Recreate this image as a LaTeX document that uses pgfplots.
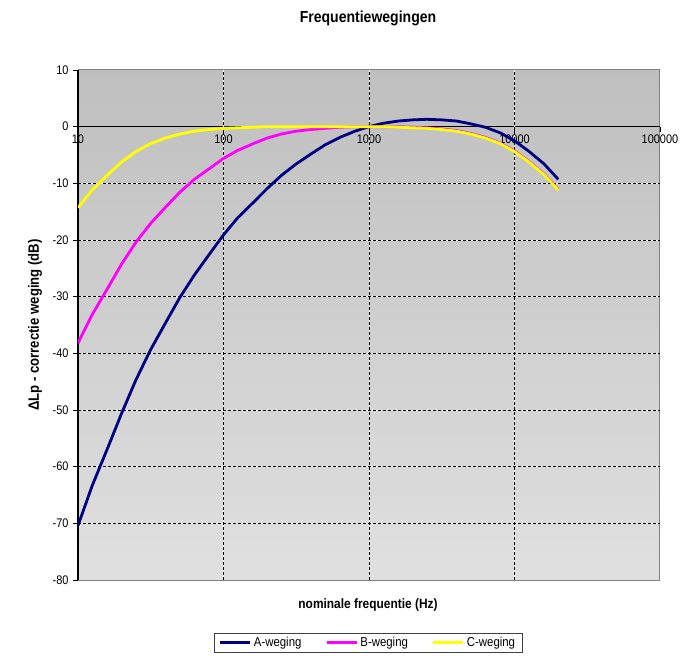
\documentclass[border=0pt]{standalone}
\usepackage{fontspec}
\setmainfont{Liberation Sans}[FakeStretch=0.88]
\usepackage{pgfplots}
\pgfplotsset{compat=1.18}
\usepackage{pgfplotstable}

\definecolor{aweg}{HTML}{000080}
\definecolor{bweg}{HTML}{FF00FF}
\definecolor{cweg}{HTML}{FFFF00}
\definecolor{bgtop}{HTML}{BFBFBF}
\definecolor{bgbot}{HTML}{E0E0E0}

% frequentie, A-, B- en C-weging (dB)
\pgfplotstableread{
f     A     B     C
10    -70.4 -38.2 -14.3
12.5  -63.4 -33.2 -11.2
16    -56.7 -28.5 -8.5
20    -50.5 -24.2 -6.2
25    -44.7 -20.4 -4.4
31.5  -39.4 -17.1 -3.0
40    -34.6 -14.2 -2.0
50    -30.2 -11.6 -1.3
63    -26.2 -9.3  -0.8
80    -22.5 -7.4  -0.5
100   -19.1 -5.6  -0.3
125   -16.1 -4.2  -0.2
160   -13.4 -3.0  -0.1
200   -10.9 -2.0  0.0
250   -8.6  -1.3  0.0
315   -6.6  -0.8  0.0
400   -4.8  -0.5  0.0
500   -3.2  -0.3  0.0
630   -1.9  -0.1  0.0
800   -0.8  0.0   0.0
1000  0.0   0.0   0.0
1250  0.6   0.0   0.0
1600  1.0   0.0   -0.1
2000  1.2   -0.1  -0.2
2500  1.3   -0.2  -0.3
3150  1.2   -0.4  -0.5
4000  1.0   -0.7  -0.8
5000  0.5   -1.2  -1.3
6300  -0.1  -1.9  -2.0
8000  -1.1  -2.9  -3.0
10000 -2.5  -4.3  -4.4
12500 -4.3  -6.1  -6.2
16000 -6.6  -8.4  -8.5
20000 -9.3  -11.1 -11.2
}\weging

\begin{document}
\begin{tikzpicture}
\useasboundingbox (-78bp,-79bp) rectangle (607bp,580bp);
\begin{axis}[
    at={(0,0)}, anchor=south west,
    scale only axis, width=582bp, height=510bp,
    xmode=log, xmin=10, xmax=100000,
    ymin=-80, ymax=10,
    axis x line*=middle, axis y line*=left,
    hide obscured x ticks=false, hide obscured y ticks=false,
    xtick={10,100,1000,10000,100000},
    xticklabels={10,100,1000,10000,100000},
    xminorticks=false,
    ytick={-80,-70,...,10},
    extra x ticks={100,1000,10000}, extra x tick labels={,,},
    extra y ticks={-70,-60,...,-10}, extra y tick labels={,,,,,,},
    extra tick style={grid=major},
    major grid style={black, line width=0.8bp, dash pattern=on 3bp off 2bp,
        preaction={draw=white, solid}},
    tick align=outside, major tick length=5bp,
    tick style={black, line width=0.8bp},
    axis line style={black, line width=1.1bp},
    axis background/.style={shade, top color=bgtop, bottom color=bgbot,
        draw=gray, line width=1bp},
    tick label style={font=\fontsize{12.5}{14}\selectfont},
    yticklabel style={xshift=-1bp},
    /pgf/number format/assume math mode=true,
    legend columns=3,
    legend style={at={(axis description cs:0.4983,-0.104)}, anchor=north,
        draw=black!75, line width=0.8bp, fill=white,
        font=\fontsize{13}{15}\selectfont,
        inner xsep=5bp, inner ysep=2bp,
        /tikz/every even column/.append style={column sep=22bp}},
    legend image code/.code={\draw[#1, line width=3bp] (0bp,0bp) -- (30bp,0bp);},
]
\addplot[aweg, line width=2.8bp, line join=round] table[x=f, y=A] {\weging};
\addlegendentry{A-weging}
\addplot[bweg, line width=2.8bp, line join=round] table[x=f, y=B] {\weging};
\addlegendentry{B-weging}
\addplot[cweg, line width=2.8bp, line join=round] table[x=f, y=C] {\weging};
\addlegendentry{C-weging}
\end{axis}
\node[font=\bfseries\fontsize{16}{18}\selectfont] at (290bp,562bp) {Frequentiewegingen};
\node[font=\bfseries\fontsize{13.6}{15}\selectfont] at (290bp,-25bp) {nominale frequentie (Hz)};
\node[rotate=90, font=\bfseries\fontsize{15}{17}\selectfont] at (-43bp,255bp) {ΔLp - correctie weging (dB)};
\end{tikzpicture}
\end{document}
